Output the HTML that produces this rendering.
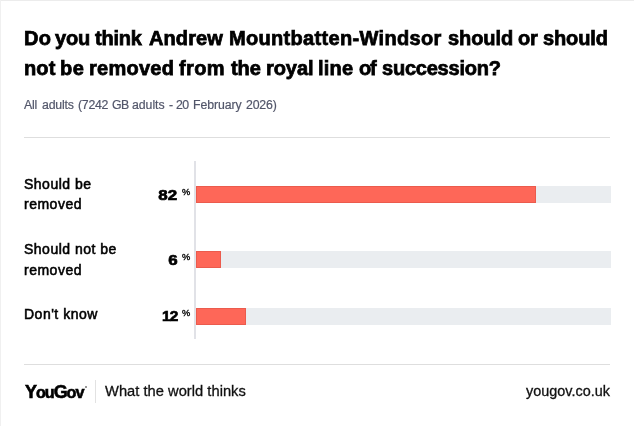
<!DOCTYPE html>
<html><head><meta charset="utf-8">
<style>
html,body{margin:0;padding:0;background:#fff;}
body{width:634px;height:426px;position:relative;overflow:hidden;font-family:"Liberation Sans",sans-serif;color:#000;}
.a{position:absolute;white-space:nowrap;line-height:1;will-change:transform;}
.t{font-weight:bold;font-size:20px;color:#000;-webkit-text-stroke:0.75px #000;}
.sub{font-size:12.3px;color:#52566a;-webkit-text-stroke:0.2px #52566a;}
.lbl{font-size:14px;letter-spacing:0.5px;color:#000;-webkit-text-stroke:0.55px #000;}
.val{font-weight:bold;font-size:15.4px;color:#000;text-align:right;-webkit-text-stroke:0.7px #000;transform:scaleX(1.1);transform-origin:100% 50%;}
.pct{font-size:9.3px;color:#000;-webkit-text-stroke:0.35px #000;letter-spacing:0;}
.hr{position:absolute;height:1px;background:#dedede;}
.track{position:absolute;left:196px;width:415px;height:17px;background:#eaedf0;}
.bar{position:absolute;left:0;top:0;height:17px;background:#fe6758;box-shadow:inset 0 0 0 1px rgba(160,45,35,0.2);}
.axis{position:absolute;left:194px;top:161px;width:2px;height:178px;background:#e1e2e7;}
</style></head><body>
<div class="hr" style="left:0;top:0;width:634px;background:#ececec"></div>
<div class="hr" style="left:0;top:0;width:1px;height:426px;background:#f0f0f0"></div>
<div class="a t" style="left:24px;top:28.4px;letter-spacing:0.4px">Do</div>
<div class="a t" style="left:55.1px;top:28.4px;letter-spacing:-0.2px">you</div>
<div class="a t" style="left:95.3px;top:28.4px;letter-spacing:-0.225px">think</div>
<div class="a t" style="left:148.7px;top:28.4px;letter-spacing:0.1px">Andrew</div>
<div class="a t" style="left:229.3px;top:28.4px;letter-spacing:0.322px">Mountbatten-Windsor</div>
<div class="a t" style="left:448.2px;top:28.4px;letter-spacing:-0.08px">should</div>
<div class="a t" style="left:518px;top:28.4px;letter-spacing:-0.2px">or</div>
<div class="a t" style="left:542.6px;top:28.4px;letter-spacing:-0.12px">should</div>
<div class="a t" style="left:24px;top:58.4px;letter-spacing:0.1px">not</div>
<div class="a t" style="left:60.4px;top:58.4px;letter-spacing:0.6px">be</div>
<div class="a t" style="left:88.7px;top:58.4px;letter-spacing:0.25px">removed</div>
<div class="a t" style="left:179.4px;top:58.4px;letter-spacing:0.367px">from</div>
<div class="a t" style="left:230.6px;top:58.4px;letter-spacing:-0.1px">the</div>
<div class="a t" style="left:265.6px;top:58.4px;letter-spacing:-0.075px">royal</div>
<div class="a t" style="left:318.4px;top:58.4px;letter-spacing:0.233px">line</div>
<div class="a t" style="left:358.5px;top:58.4px;letter-spacing:-1.1px">of</div>
<div class="a t" style="left:382.2px;top:58.4px;letter-spacing:-0.22px">succession?</div>
<div class="a sub" style="left:24.4px;top:99px;letter-spacing:-0.2px">All</div>
<div class="a sub" style="left:41.5px;top:99px;letter-spacing:-0.18px">adults</div>
<div class="a sub" style="left:77.7px;top:99px;letter-spacing:-0.275px">(7242</div>
<div class="a sub" style="left:112px;top:99px;letter-spacing:-0.6px">GB</div>
<div class="a sub" style="left:131.6px;top:99px;letter-spacing:-0.04px">adults</div>
<div class="a sub" style="left:169.2px;top:99px;letter-spacing:0px">-</div>
<div class="a sub" style="left:175.9px;top:99px;letter-spacing:-0.6px">20</div>
<div class="a sub" style="left:192.5px;top:99px;letter-spacing:-0.071px">February</div>
<div class="a sub" style="left:246px;top:99px;letter-spacing:-0.175px">2026)</div>
<div class="hr" style="left:24px;top:137px;width:586px"></div>

<div class="a lbl" style="left:24px;top:177px">Should be</div>
<div class="a lbl" style="left:24px;top:197px">removed</div>
<div class="a lbl" style="left:24px;top:242px">Should not be</div>
<div class="a lbl" style="left:24px;top:263px">removed</div>
<div class="a lbl" style="left:24px;top:307px">Don't know</div>

<div class="a val" style="right:456.5px;top:186.6px">82</div>
<div class="a pct" style="left:182.3px;top:187.6px">%</div>
<div class="a val" style="right:456.3px;top:252.1px">6</div>
<div class="a pct" style="left:182.3px;top:252.6px">%</div>
<div class="a val" style="right:456px;top:307.6px;transform:scaleX(1.0);letter-spacing:-0.7px;right:456px;">12</div>
<div class="a pct" style="left:182.3px;top:308.6px">%</div>

<div class="axis"></div>
<div class="track" style="top:186px"><div class="bar" style="width:340px"></div></div>
<div class="track" style="top:251px"><div class="bar" style="width:25px"></div></div>
<div class="track" style="top:308px"><div class="bar" style="width:50px"></div></div>

<div class="hr" style="left:24px;top:364px;width:586px"></div>
<div class="a" style="left:24.5px;top:383px;font-weight:bold;font-size:18px;letter-spacing:-1.05px;color:#000;-webkit-text-stroke:0.6px #000">Y<span style="font-size:16.2px">ou</span>G<span style="font-size:16.2px">ov</span></div>
<div class="a" style="left:85px;top:386px;width:2px;height:2px;border-radius:1px;background:#777"></div>
<div class="a" style="left:95px;top:380px;width:1px;height:23px;background:#e2e2e2"></div>
<div class="a" style="left:104.5px;top:384px;font-size:14.7px;letter-spacing:0.02px;color:#111;-webkit-text-stroke:0.3px #111">What the world thinks</div>
<div class="a" style="left:526px;top:384.4px;font-size:14.4px;letter-spacing:0.02px;color:#111;-webkit-text-stroke:0.3px #111">yougov.co.uk</div>
</body></html>
